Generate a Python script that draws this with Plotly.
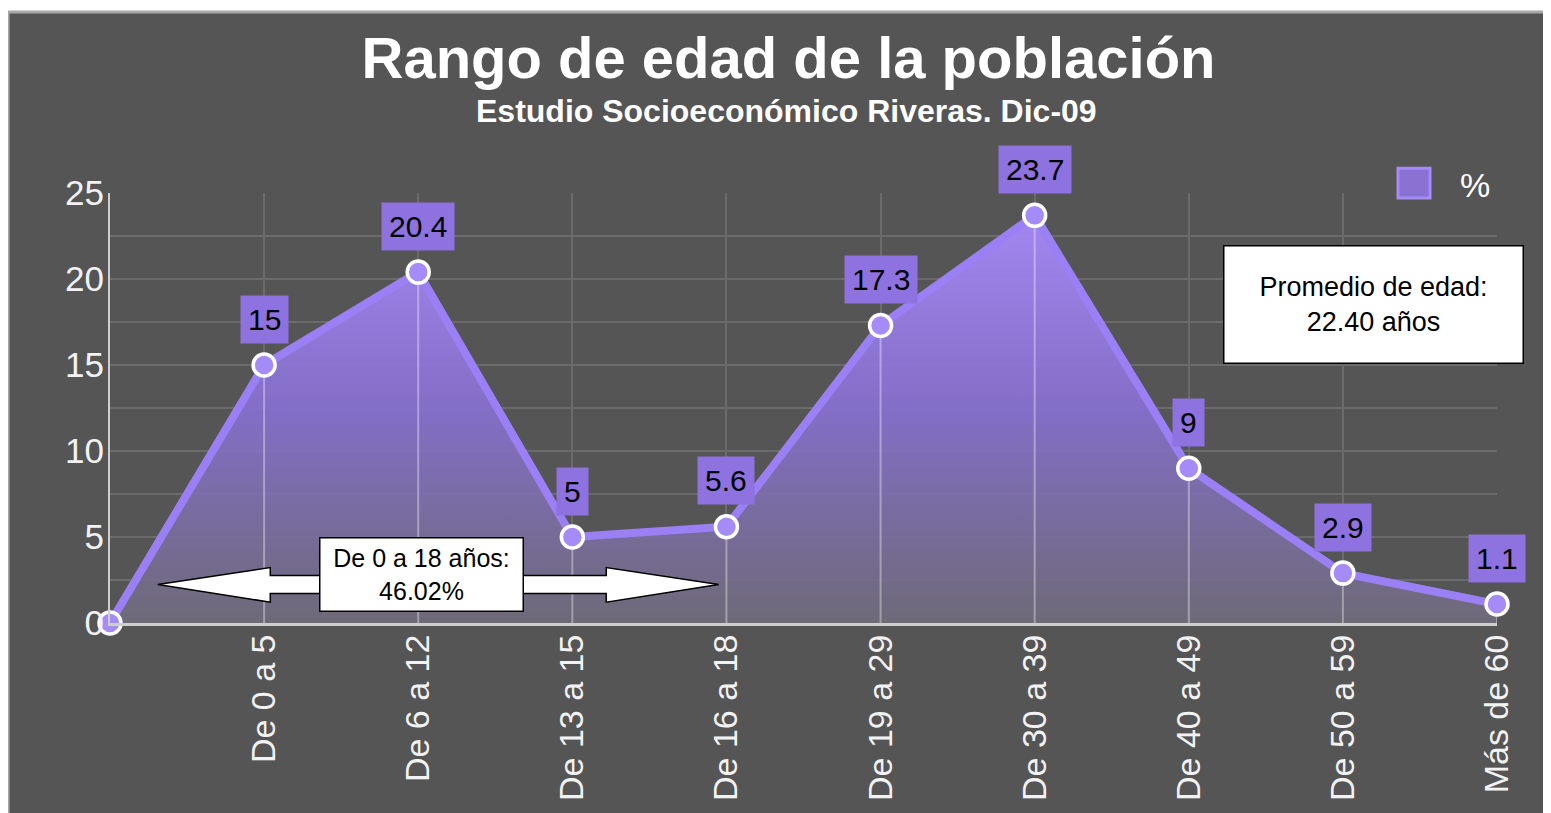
import plotly.graph_objects as go

# data
categories = ["", "De 0 a 5", "De 6 a 12", "De 13 a 15", "De 16 a 18", "De 19 a 29",
              "De 30 a 39", "De 40 a 49", "De 50 a 59", "Más de 60"]
values = [0, 15, 20.4, 5, 5.6, 17.3, 23.7, 9, 2.9, 1.1]
y_ticks = [0, 5, 10, 15, 20, 25]
series_name = "%"
title = "Rango de edad de la población"
subtitle = "Estudio Socioeconómico Riveras. Dic-09"
avg_text = "Promedio de edad:<br>22.40 años"
range_text = "De 0 a 18 años:<br>46.02%"

FONT = "Liberation Sans, Arial, sans-serif"
PURPLE = "#9b7ff5"
BG = "#555555"

# page body has an 8px margin, so the figure is a bit smaller than the window
W, H = 1543, 805

xs = list(range(len(categories)))

fig = go.Figure()

# filled area with vertical gradient
fig.add_trace(go.Scatter(
    x=xs, y=values, mode="none", fill="tozeroy", showlegend=False, hoverinfo="skip",
    fillgradient=dict(type="vertical", start=0, stop=25,
                      colorscale=[[0, "rgba(112,108,122,0.9)"],
                                  [0.5, "rgba(135,112,208,0.92)"],
                                  [1, "rgba(170,140,252,0.96)"]]),
))

# light drop lines inside the fill (like the light gridlines)
drop_x, drop_y = [], []
for x, v in zip(xs, values):
    drop_x += [x, x, None]
    drop_y += [0, v, None]
fig.add_trace(go.Scatter(
    x=drop_x, y=drop_y, mode="lines", showlegend=False, hoverinfo="skip",
    line=dict(color="rgba(255,255,255,0.35)", width=2),
))

# main line
fig.add_trace(go.Scatter(
    x=xs, y=values, mode="lines+markers", name=series_name, showlegend=False,
    line=dict(color=PURPLE, width=8),
    marker=dict(size=22, color="#a48bf7", line=dict(color="white", width=3.5)),
    cliponaxis=False,
))

# value labels
for x, v in zip(xs[1:], values[1:]):
    fig.add_annotation(
        x=x, y=v, text=f"{v:g}", showarrow=False, yshift=46,
        bgcolor="#8e73e0", borderpad=7,
        font=dict(family=FONT, size=30, color="black"),
    )

# double arrow for 0-18 range
left, right, mid = 0.31, 3.95, 2.24
fig.add_shape(
    type="path", xref="x", yref="y", layer="above",
    path=(f"M {left} {mid} L 1.04 3.22 L 1.04 2.76 L 3.22 2.76 L 3.22 3.22 "
          f"L {right} {mid} L 3.22 1.21 L 3.22 1.72 L 1.04 1.72 L 1.04 1.21 Z"),
    fillcolor="white", line=dict(color="black", width=1.5),
)
fig.add_annotation(
    x=2.02, y=2.84, xref="x", yref="y", text=range_text, showarrow=False,
    xanchor="center", yanchor="middle",
    bgcolor="white", bordercolor="black", borderwidth=1.5, width=200, height=70,
    font=dict(family=FONT, size=25, color="black"),
)

# average box
fig.add_annotation(
    x=0.9106, y=0.74, xref="paper", yref="paper", text=avg_text, showarrow=False,
    xanchor="center", yanchor="middle",
    bgcolor="white", bordercolor="black", borderwidth=1.5, width=296, height=114,
    font=dict(family=FONT, size=27, color="black"),
)

# subtitle
fig.add_annotation(
    x=0.4874, y=1.1908, xref="paper", yref="paper", text=f"<b>{subtitle}</b>",
    xanchor="center", yanchor="middle",
    showarrow=False, font=dict(family=FONT, size=32, color="white"),
)

# legend (drawn by hand so the swatch can be large)
fig.add_shape(
    type="rect", xref="paper", yref="paper", layer="above",
    x0=0.9286, x1=0.9517, y0=0.9885, y1=1.0575,
    fillcolor="#8a72d2", line=dict(color="#a48bf7", width=3),
)
fig.add_annotation(
    x=0.984, y=1.0184, xref="paper", yref="paper", text=series_name,
    xanchor="center", yanchor="middle", showarrow=False,
    font=dict(family=FONT, size=34, color="white"),
)

# outer frame
fig.add_shape(
    type="rect", xref="paper", yref="paper", layer="below",
    x0=-0.0735, x1=1.0346, y0=-0.5, y1=1.4207,
    fillcolor=BG, line=dict(color="#a8a8a8", width=3),
)

fig.update_layout(
    width=W, height=H,
    margin=dict(l=102, r=54, t=185, b=185, pad=0),
    paper_bgcolor="white", plot_bgcolor=BG,
    title=dict(text=f"<b>{title}</b>", x=780.5 / W, xanchor="center",
               y=1 - 50 / H, yanchor="middle",
               font=dict(family=FONT, size=58, color="white")),
    xaxis=dict(
        range=[0, 9], tickvals=xs, ticktext=categories, tickangle=-90,
        showgrid=True, gridcolor="#6b6b6b", gridwidth=2,
        showline=True, linecolor="#cfcfcf", linewidth=3,
        zeroline=False, ticks="", ticklabelstandoff=-5,
        tickfont=dict(family=FONT, size=34, color="#f2f2f2"),
    ),
    yaxis=dict(
        range=[0, 25], tickvals=y_ticks,
        showgrid=True, gridcolor="#6b6b6b", gridwidth=2,
        minor=dict(dtick=2.5, showgrid=True, gridcolor="#6b6b6b", gridwidth=2),
        showline=True, linecolor="#cfcfcf", linewidth=2,
        zeroline=False, ticks="", ticklabelstandoff=-3,
        tickfont=dict(family=FONT, size=35, color="#f2f2f2"),
    ),
    showlegend=False,
)

fig.write_html("out.html")
